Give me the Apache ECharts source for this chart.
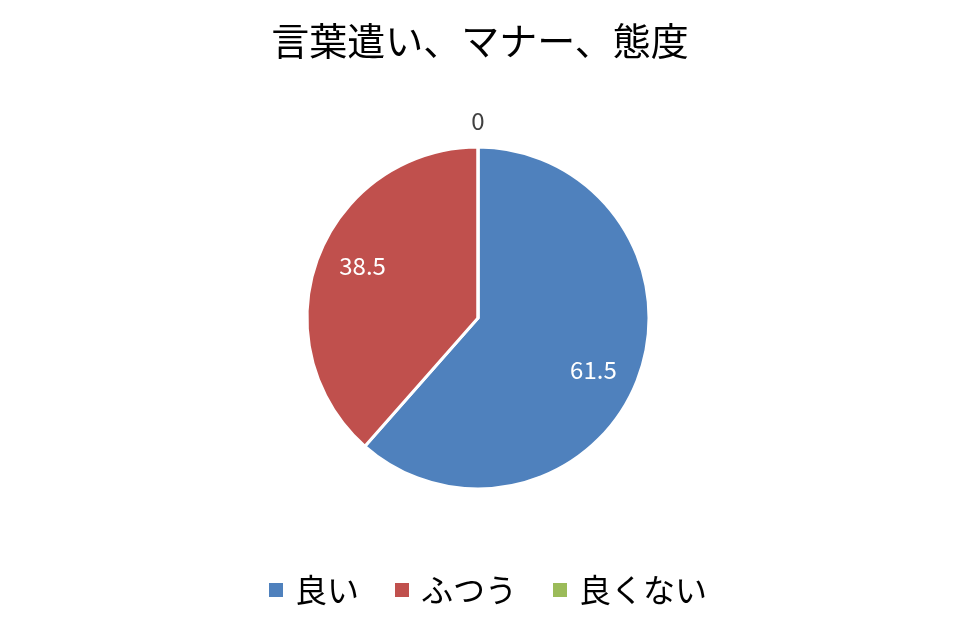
<!DOCTYPE html>
<html>
<head>
<meta charset="utf-8">
<script src="https://cdn.jsdelivr.net/npm/echarts@6/dist/echarts.min.js"></script>
<style>
  html, body { margin: 0; padding: 0; background: #fff; }
  #chart { width: 960px; height: 620px; }
</style>
</head>
<body>
<div id="chart"></div>
<script>
// データ
const categories = ['良い', 'ふつう', '良くない'];
const values = [61.5, 38.5, 0];
const colors = ['#4F81BD', '#C0504D', '#9BBB59'];

const center = [478, 318];
const radius = 171;
const fontFamily = '"Noto Sans CJK JP", "Noto Sans", sans-serif';

// ラベル位置（各スライスの中央角度から計算）
const total = values.reduce((a, b) => a + b, 0);
function labelPos(i) {
    let before = 0;
    for (let k = 0; k < i; k++) before += values[k];
    let mid = (before + values[i] / 2) / total * Math.PI * 2;
    if (values[i] !== 0) mid += 3.5 * Math.PI / 180;
    const r = values[i] === 0 ? radius + 26 : radius * 0.74;
    return [center[0] + r * Math.sin(mid), center[1] - r * Math.cos(mid)];
}

const myChart = echarts.init(document.getElementById('chart'));
myChart.setOption({
    animation: false,
    title: {
        text: '言葉遣い、マナー、態度',
        left: 'center',
        top: 17,
        textStyle: {fontFamily, fontSize: 38, fontWeight: 'normal', color: '#000'}
    },
    legend: {
        bottom: 14,
        left: 267,
        padding: 0,
        icon: 'rect',
        itemWidth: 16,
        itemHeight: 16,
        itemGap: 34,
        textStyle: {fontFamily, fontSize: 32, color: '#000', padding: [0, 0, 0, 6]},
        data: categories
    },
    series: [{
        type: 'pie',
        center: center,
        radius: radius,
        startAngle: 90,
        clockwise: true,
        avoidLabelOverlap: false,
        itemStyle: {borderColor: '#fff', borderWidth: 3},
        label: {
            show: true,
            position: 'inside',
            fontFamily,
            fontSize: 24,
            color: '#fff',
            formatter: p => p.value
        },
        labelLine: {show: false},
        labelLayout: params => {
            const pos = labelPos(params.dataIndex);
            return {x: pos[0], y: pos[1], align: 'center', verticalAlign: 'middle'};
        },
        data: categories.map((name, i) => ({
            name,
            value: values[i],
            itemStyle: {color: colors[i]},
            label: values[i] === 0 ? {color: '#404040'} : {}
        }))
    }]
});
</script>
</body>
</html>
